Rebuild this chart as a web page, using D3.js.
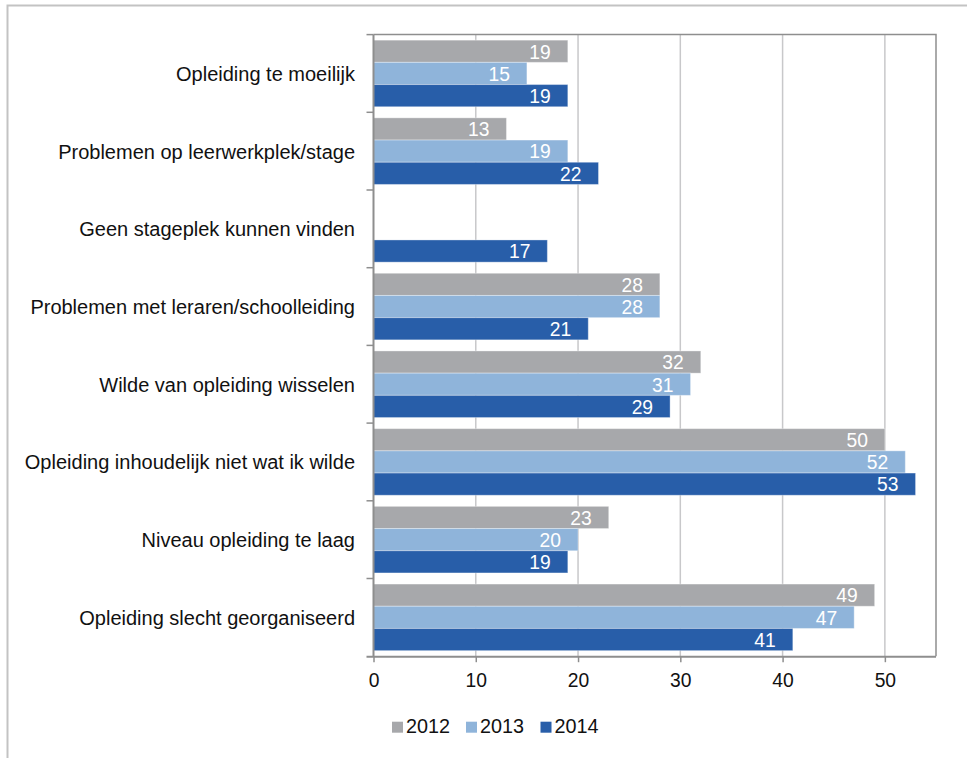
<!DOCTYPE html>
<html><head><meta charset="utf-8">
<script src="https://cdn.jsdelivr.net/npm/d3@7"></script>
<style>
html,body{margin:0;padding:0;background:#fff;}
svg{display:block;font-family:"Liberation Sans",Arial,sans-serif;}
</style></head>
<body>
<svg id="chart" width="967" height="758"></svg>
<script>
const categories = [
  "Opleiding te moeilijk",
  "Problemen op leerwerkplek/stage",
  "Geen stageplek kunnen vinden",
  "Problemen met leraren/schoolleiding",
  "Wilde van opleiding wisselen",
  "Opleiding inhoudelijk niet wat ik wilde",
  "Niveau opleiding te laag",
  "Opleiding slecht georganiseerd"
];
const seriesNames = ["2012", "2013", "2014"];
const values2012 = [19, 13, null, 28, 32, 50, 23, 49];
const values2013 = [15, 19, null, 28, 31, 52, 20, 47];
const values2014 = [19, 22, 17, 21, 29, 53, 19, 41];
const xTicks = [0, 10, 20, 30, 40, 50];
const colors = ["#a7a8ab", "#8fb4da", "#285ea9"];

(function () {
const seriesValues = [values2012, values2013, values2014];
const svg = d3.select("#chart");

// outer frame
svg.append("path").attr("d", "M7.5,758 V5.5 H967").attr("fill", "none")
  .attr("stroke", "#c3c3c3").attr("stroke-width", 2);

const pLeft = 373.5, pRight = 936, pTop = 34.6, pBottom = 656.2;
const x = d3.scaleLinear().domain([0, 55]).range([pLeft, pRight]);
const y = d3.scaleBand().domain(categories).range([pTop, pBottom])
  .paddingInner(0.143).paddingOuter(0.0715);
const ySub = d3.scaleBand().domain(seriesNames).range([0, y.bandwidth()]);

// gridlines
svg.append("g").selectAll("line").data(xTicks.slice(1)).join("line")
  .attr("x1", d => x(d)).attr("x2", d => x(d))
  .attr("y1", pTop).attr("y2", pBottom)
  .attr("stroke", "#c8c8ca").attr("stroke-width", 1.5);

// plot border top and right
svg.append("path")
  .attr("d", `M${pLeft},${pTop} H${pRight} V${pBottom}`)
  .attr("fill", "none").attr("stroke", "#8e8e8e").attr("stroke-width", 1.5);

// bars
const rows = [];
categories.forEach((c, i) => {
  seriesNames.forEach((s, j) => {
    const v = seriesValues[j][i];
    if (v != null) rows.push({c, s, v, j});
  });
});
const barG = svg.append("g");
barG.selectAll("rect").data(rows).join("rect")
  .attr("x", x(0))
  .attr("y", d => y(d.c) + ySub(d.s))
  .attr("width", d => x(d.v) - x(0))
  .attr("height", ySub.bandwidth())
  .attr("fill", d => colors[d.j])
  .attr("stroke", "#ffffff").attr("stroke-opacity", 0.35).attr("stroke-width", 1);

barG.selectAll("text").data(rows).join("text")
  .attr("x", d => x(d.v) - 17)
  .attr("y", d => y(d.c) + ySub(d.s) + ySub.bandwidth() / 2 + 7.3)
  .attr("text-anchor", "end")
  .attr("fill", "#ffffff")
  .attr("font-size", "19.3px")
  .text(d => d.v);

// x axis
const xAxis = svg.append("g").attr("transform", `translate(0,${pBottom})`)
  .call(d3.axisBottom(x).tickValues(xTicks).tickSize(6).tickPadding(11).tickFormat(d3.format("d")));
xAxis.select(".domain").attr("stroke", "#8e8e8e").attr("stroke-width", 2)
  .attr("d", `M${pLeft - 7},0.5H${pRight}`);
xAxis.selectAll(".tick line").attr("stroke", "#8e8e8e").attr("stroke-width", 1.5);
xAxis.selectAll(".tick text").attr("font-size", "19.3px").attr("fill", "#111")
  .attr("font-family", "'Liberation Sans',Arial,sans-serif");

// y axis line and boundary ticks
svg.append("line").attr("x1", pLeft).attr("x2", pLeft).attr("y1", pTop).attr("y2", pBottom)
  .attr("stroke", "#8e8e8e").attr("stroke-width", 2);
const boundaries = categories.map(c => y(c) - y.step() * y.paddingInner() / 2);
svg.append("g").selectAll("line").data(boundaries).join("line")
  .attr("x1", pLeft - 7).attr("x2", pLeft)
  .attr("y1", d => d).attr("y2", d => d)
  .attr("stroke", "#8e8e8e").attr("stroke-width", 1.5);

// category labels
svg.append("g").selectAll("text").data(categories).join("text")
  .attr("x", 355)
  .attr("y", d => y(d) + y.bandwidth() / 2 + 7.5)
  .attr("text-anchor", "end")
  .attr("font-size", "20px")
  .attr("fill", "#111")
  .text(d => d);

// legend
const legendX = [392, 466, 540.5];
const lg = svg.append("g");
seriesNames.forEach((s, i) => {
  lg.append("rect").attr("x", legendX[i]).attr("y", 721.7).attr("width", 11).attr("height", 11)
    .attr("fill", colors[i]);
  lg.append("text").attr("x", legendX[i] + 14).attr("y", 733)
    .attr("font-size", "19.8px").attr("fill", "#111").text(s);
});
})();
</script>
</body></html>
